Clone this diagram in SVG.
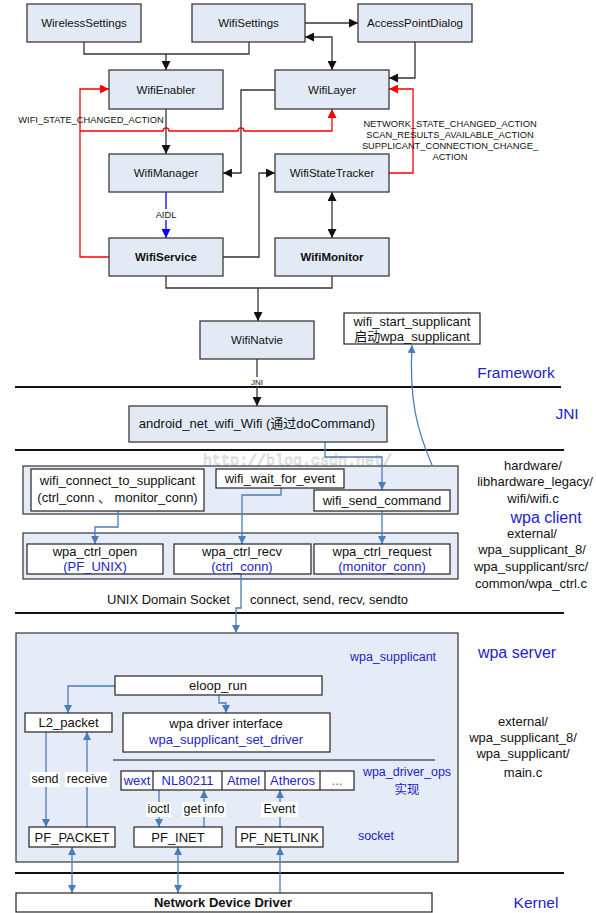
<svg xmlns="http://www.w3.org/2000/svg" width="596" height="913" viewBox="0 0 596 913">
<style>
text{font-family:"Liberation Sans",Arial,"Noto Sans CJK SC",sans-serif;fill:#111}
.n{fill:#E4EAF5;stroke:#3a3a3a;stroke-width:1.3}
.w{fill:#fff;stroke:#222;stroke-width:1.2}
.o{fill:#E6ECF7;stroke:#333;stroke-width:1.2}
.t{font-size:11.5px;text-anchor:middle}
.b{font-weight:bold}
.m{font-size:13px;text-anchor:middle}
.s{font-size:9.3px;text-anchor:middle}
.bl{fill:#2323C8}
.big{font-size:15.5px;fill:#2323C8;text-anchor:middle}
.k{fill:none;stroke:#333;stroke-width:1.3}
.r{fill:none;stroke:#FF0000;stroke-width:1.3}
.sb{fill:none;stroke:#4A7EBB;stroke-width:1.3}
.hl{stroke:#111;stroke-width:2}
</style>
<defs>
<marker id="ak" viewBox="0 0 10 10" refX="10" refY="5" markerWidth="9" markerHeight="9" markerUnits="userSpaceOnUse" orient="auto-start-reverse"><path d="M0,0 L10,5 L0,10 z" fill="#111"/></marker>
<marker id="ar" viewBox="0 0 10 10" refX="10" refY="5" markerWidth="9" markerHeight="9" markerUnits="userSpaceOnUse" orient="auto"><path d="M0,0 L10,5 L0,10 z" fill="#FF0000"/></marker>
<marker id="ab" viewBox="0 0 10 10" refX="10" refY="5" markerWidth="9" markerHeight="9" markerUnits="userSpaceOnUse" orient="auto"><path d="M0,0 L10,5 L0,10 z" fill="#0000FF"/></marker>
<marker id="as" viewBox="0 0 10 10" refX="10" refY="5" markerWidth="8" markerHeight="8" markerUnits="userSpaceOnUse" orient="auto-start-reverse"><path d="M0,0 L10,5 L0,10 z" fill="#4A7EBB"/></marker>
</defs>

<!-- watermark -->
<text x="203" y="465" style="font-family:'Liberation Mono',monospace;font-size:15px;fill:none;stroke:#d6d6d6;stroke-width:0.8">http://blog.csdn.net/</text>

<!-- section lines -->
<g id="lines">
<line class="hl" x1="15" y1="387" x2="561" y2="387"/>
<line class="hl" x1="15" y1="450" x2="564" y2="450"/>
<line class="hl" x1="15" y1="613" x2="564" y2="613"/>
<line class="hl" x1="15" y1="873" x2="564" y2="873"/>
</g>

<!-- outer containers -->
<g id="wpa-client-box"><rect class="o" x="23" y="466" width="435" height="48"/></g>
<g id="wpa-ctrl-box"><rect class="o" x="23" y="533" width="435" height="46"/></g>
<g id="wpa-server-box"><rect class="o" x="16" y="633" width="442" height="229"/></g>

<g id="connectors">
<path class="k" d="M84,42 V54 H249 V42"/>
<path class="k" d="M166,54 V70" marker-end="url(#ak)"/>
<path class="k" d="M305,23 H358" marker-end="url(#ak)"/>
<path class="k" d="M305,37 H332 V70" marker-start="url(#ak)" marker-end="url(#ak)"/>
<path class="k" d="M415,42 V78 H389" marker-end="url(#ak)"/>
<path class="k" d="M166,109 V154" marker-end="url(#ak)"/>
<path class="k" d="M275,90 H241 V173 H223" marker-end="url(#ak)"/>
<path class="k" d="M223,257 H259 V173 H275" marker-end="url(#ak)"/>
<path class="k" d="M332,192 V238" marker-start="url(#ak)" marker-end="url(#ak)"/>
<path class="k" d="M166,276 V288 H332 V276"/>
<path class="k" d="M258,288 V321" marker-end="url(#ak)"/>
<path class="k" d="M257,359 V406" marker-end="url(#ak)"/>
<path d="M166,192 V238" fill="none" stroke="#0000FF" stroke-width="1.3" marker-end="url(#ab)"/>
<path class="r" d="M109,257 H80 V89 H109" marker-end="url(#ar)"/>
<path class="r" d="M80,131 H163 A3,3 0 0 1 169,131 H238 A3,3 0 0 1 244,131 H332 V109" marker-end="url(#ar)"/>
<path class="r" d="M389,173 H413 V89 H389" marker-end="url(#ar)"/>
<path class="sb" d="M118,511 V527 H95 V544" marker-end="url(#as)"/>
<path class="sb" d="M281,488 V495 H242 V544" marker-end="url(#as)"/>
<path class="sb" d="M325,442 V457 H382 V490" marker-end="url(#as)"/>
<path class="sb" d="M382,511 V544" marker-end="url(#as)"/>
<path class="sb" d="M241,574 V608 H236 V633" marker-end="url(#as)"/>
<path class="sb" d="M432,465 C417,430 409,400 412,345" marker-end="url(#as)"/>
<path class="sb" d="M115,686 H68 V713" marker-end="url(#as)"/>
<path class="sb" d="M219,695 V703 H226 V713" marker-end="url(#as)"/>
<path class="sb" d="M46,732 V827" marker-end="url(#as)"/>
<path class="sb" d="M87,827 V732" marker-end="url(#as)"/>
<path class="sb" d="M159,790 V827" marker-end="url(#as)"/>
<path class="sb" d="M204,827 V790" marker-end="url(#as)"/>
<path class="sb" d="M280,827 V790" marker-end="url(#as)"/>
<path class="sb" d="M280,893 V847" marker-end="url(#as)"/>
<path class="sb" d="M72,847 V893" marker-start="url(#as)" marker-end="url(#as)"/>
<path class="sb" d="M178,847 V893" marker-start="url(#as)" marker-end="url(#as)"/>
</g>

<g id="labels">
<text class="s" x="91" y="123">WIFI_STATE_CHANGED_ACTION</text>
<text class="s" x="450" y="127">NETWORK_STATE_CHANGED_ACTION</text>
<text class="s" x="450" y="138">SCAN_RESULTS_AVAILABLE_ACTION</text>
<text class="s" x="450" y="149">SUPPLICANT_CONNECTION_CHANGE_</text>
<text class="s" x="450" y="160">ACTION</text>
<rect x="155" y="209" width="22" height="11" fill="#fff"/>
<text class="s" x="166" y="218">AIDL</text>
<rect x="249" y="377" width="16" height="9" fill="#fff"/>
<text x="257" y="385" style="font-size:8px;text-anchor:middle;fill:#111">JNI</text>
<text x="107" y="604" style="font-size:13px">UNIX Domain Socket</text>
<text x="250" y="604" style="font-size:13px">connect, send, recv, sendto</text>
<rect x="30" y="772" width="30" height="15" fill="#fff"/>
<text x="45" y="783" style="font-size:12.5px;text-anchor:middle">send</text>
<rect x="65" y="772" width="44" height="15" fill="#fff"/>
<text x="87" y="783" style="font-size:12.5px;text-anchor:middle">receive</text>
<rect x="146" y="802" width="25" height="15" fill="#fff"/>
<text x="158.5" y="813" style="font-size:12.5px;text-anchor:middle">ioctl</text>
<rect x="182" y="802" width="44" height="15" fill="#fff"/>
<text x="204" y="813" style="font-size:12.5px;text-anchor:middle">get info</text>
<rect x="261" y="802" width="37" height="15" fill="#fff"/>
<text x="279.5" y="813" style="font-size:12.5px;text-anchor:middle">Event</text>
</g>

<g id="WirelessSettings"><rect class="n" x="27" y="4" width="114" height="38"/><text class="t" x="84" y="27">WirelessSettings</text></g>
<g id="WifiSettings"><rect class="n" x="192" y="4" width="113" height="38"/><text class="t" x="248.5" y="27">WifiSettings</text></g>
<g id="AccessPointDialog"><rect class="n" x="358" y="4" width="114" height="38"/><text class="t" x="415" y="27">AccessPointDialog</text></g>
<g id="WifiEnabler"><rect class="n" x="109" y="70" width="114" height="39"/><text class="t" x="166" y="94">WifiEnabler</text></g>
<g id="WifiLayer"><rect class="n" x="275" y="70" width="114" height="39"/><text class="t" x="332" y="94">WifiLayer</text></g>
<g id="WifiManager"><rect class="n" x="109" y="154" width="114" height="38"/><text class="t" x="166" y="177">WifiManager</text></g>
<g id="WifiStateTracker"><rect class="n" x="275" y="154" width="114" height="38"/><text class="t" x="332" y="177">WifiStateTracker</text></g>
<g id="WifiService"><rect class="n" x="109" y="238" width="114" height="38"/><text class="t b" x="166" y="261">WifiService</text></g>
<g id="WifiMonitor"><rect class="n" x="275" y="238" width="114" height="38"/><text class="t b" x="332" y="261">WifiMonitor</text></g>
<g id="WifiNatvie"><rect class="n" x="200" y="321" width="114" height="38"/><text class="t" x="257" y="344">WifiNatvie</text></g>
<g id="wifi_start_supplicant"><rect class="w" x="344" y="313" width="136" height="31"/><text class="m" x="412" y="326">wifi_start_supplicant</text><text class="m" x="412" y="341">启动wpa_supplicant</text></g>

<g id="android_net_wifi_Wifi"><rect class="n" x="129" y="406" width="258" height="36"/><text class="m" x="257" y="428">android_net_wifi_Wifi (通过doCommand)</text></g>

<g id="wifi_connect_to_supplicant"><rect class="w" x="31" y="469" width="173" height="42"/><text class="m" x="117.5" y="485">wifi_connect_to_supplicant</text><text class="m" x="117.5" y="502">(ctrl_conn 、 monitor_conn)</text></g>
<g id="wifi_wait_for_event"><rect class="w" x="216" y="469" width="128" height="19"/><text class="m" x="280" y="483">wifi_wait_for_event</text></g>
<g id="wifi_send_command"><rect class="w" x="314" y="490" width="136" height="21"/><text class="m" x="382" y="505">wifi_send_command</text></g>
<g id="wpa_ctrl_open"><rect class="w" x="27" y="544" width="136" height="30"/><text class="m" x="95" y="556">wpa_ctrl_open</text><text class="m bl" x="95" y="571">(PF_UNIX)</text></g>
<g id="wpa_ctrl_recv"><rect class="w" x="174" y="544" width="137" height="30"/><text class="m" x="242" y="556">wpa_ctrl_recv</text><text class="m bl" x="242" y="571">(ctrl_conn)</text></g>
<g id="wpa_ctrl_request"><rect class="w" x="314" y="544" width="136" height="30"/><text class="m" x="382" y="556">wpa_ctrl_request</text><text class="m bl" x="382" y="571">(monitor_conn)</text></g>

<text class="bl" x="393" y="661" style="font-size:12.5px;text-anchor:middle">wpa_supplicant</text>
<g id="eloop_run"><rect class="w" x="115" y="676" width="207" height="19"/><text class="m" x="218" y="690">eloop_run</text></g>
<g id="L2_packet"><rect class="w" x="25" y="713" width="87" height="19"/><text class="m" x="68.5" y="727">L2_packet</text></g>
<g id="wpa_driver_interface"><rect class="w" x="123" y="713" width="207" height="39"/><text class="m" x="226" y="728">wpa driver interface</text><text class="m bl" x="226" y="744">wpa_supplicant_set_driver</text></g>
<line x1="113" y1="760" x2="435" y2="760" stroke="#111" stroke-width="1.2"/>
<g id="wpa_driver_ops">
<rect class="w" x="121" y="771" width="233" height="19"/>
<line x1="153" y1="771" x2="153" y2="790" stroke="#222" stroke-width="1.2"/>
<line x1="222" y1="771" x2="222" y2="790" stroke="#222" stroke-width="1.2"/>
<line x1="265" y1="771" x2="265" y2="790" stroke="#222" stroke-width="1.2"/>
<line x1="320" y1="771" x2="320" y2="790" stroke="#222" stroke-width="1.2"/>
<text class="m bl" x="137" y="785">wext</text>
<text class="m bl" x="187.5" y="785">NL80211</text>
<text class="m bl" x="243.5" y="785">Atmel</text>
<text class="m bl" x="292.5" y="785">Atheros</text>
<text class="m" x="337" y="785" style="fill:#666">...</text>
</g>
<text class="bl" x="407" y="776" style="font-size:12.5px;text-anchor:middle">wpa_driver_ops</text>
<text class="bl" x="407" y="794" style="font-size:12.5px;text-anchor:middle">实现</text>
<g id="PF_PACKET"><rect class="w" x="29" y="827" width="86" height="20"/><text class="m" x="72" y="842">PF_PACKET</text></g>
<g id="PF_INET"><rect class="w" x="134" y="827" width="88" height="20"/><text class="m" x="178" y="842">PF_INET</text></g>
<g id="PF_NETLINK"><rect class="w" x="236" y="827" width="87" height="20"/><text class="m" x="279.5" y="842">PF_NETLINK</text></g>
<text class="bl" x="376" y="840" style="font-size:12.5px;text-anchor:middle">socket</text>

<g id="Network_Device_Driver"><rect class="w" x="16" y="893" width="416" height="19"/><text class="m b" x="223" y="907">Network Device Driver</text></g>

<g id="side">
<text class="big" x="516" y="378">Framework</text>
<text class="big" x="567" y="419">JNI</text>
<text class="m" x="533" y="470">hardware/</text>
<text class="m" x="535" y="486">libhardware_legacy/</text>
<text class="m" x="533" y="503">wifi/wifi.c</text>
<text class="big" x="546" y="523" style="font-size:16px">wpa client</text>
<text class="m" x="532" y="538">external/</text>
<text class="m" x="532" y="554">wpa_supplicant_8/</text>
<text class="m" x="531" y="571">wpa_supplicant/src/</text>
<text class="m" x="531" y="588">common/wpa_ctrl.c</text>
<text class="big" x="517" y="658" style="font-size:16px">wpa server</text>
<text class="m" x="523" y="726">external/</text>
<text class="m" x="523" y="742">wpa_supplicant_8/</text>
<text class="m" x="523" y="758">wpa_supplicant/</text>
<text class="m" x="523" y="777">main.c</text>
<text class="big" x="536" y="908">Kernel</text>
</g>
</svg>
